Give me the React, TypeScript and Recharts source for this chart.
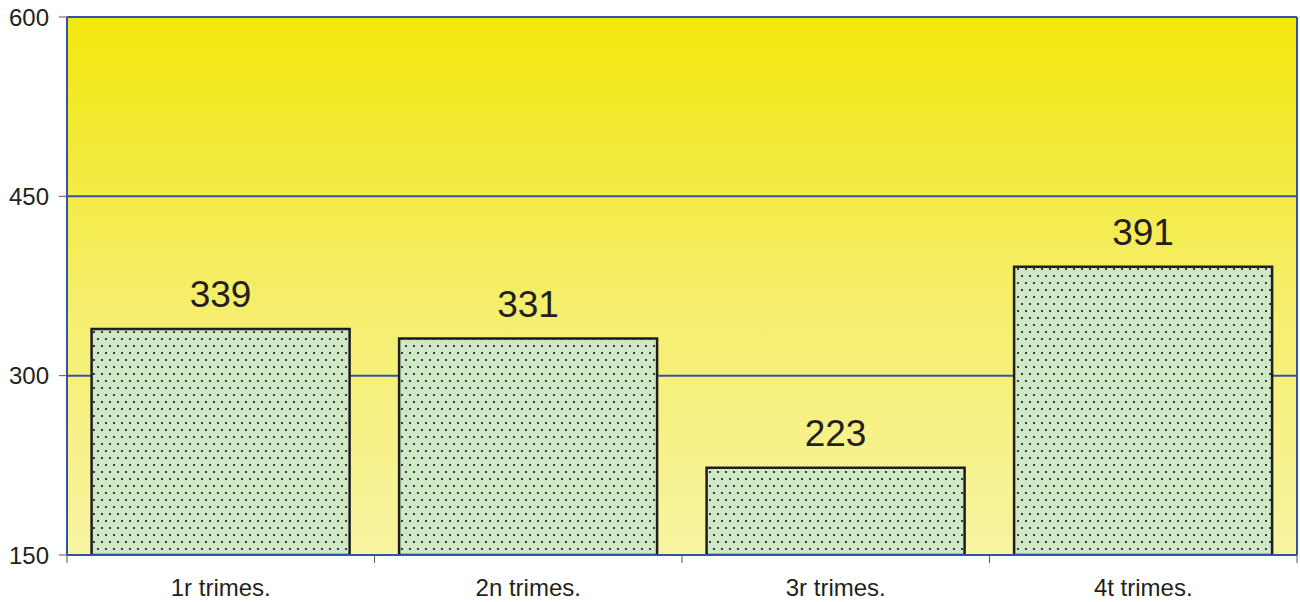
import React from "react";
import {
  BarChart,
  Bar,
  XAxis,
  YAxis,
  CartesianGrid,
  ReferenceLine,
  LabelList,
} from "recharts";

const categories = ["1r trimes.", "2n trimes.", "3r trimes.", "4t trimes."];
const values = [339, 331, 223, 391];
const yTicks = [150, 300, 450, 600];

const data = categories.map((name, i) => ({ name, value: values[i] }));

const BLUE = "#3353a4";
const TEXT = "#231f20";
const FONT = "'Liberation Sans', Arial, sans-serif";

// category label plus tick marks at the band edges
const CategoryTick = (props: any) => {
  const { x, y, payload, index, visibleTicksCount } = props;
  const half = payload?.offset ?? 0;
  const axisY = y - 24;
  const isLast = index === (visibleTicksCount ?? categories.length) - 1;
  return (
    <g>
      <line x1={x - half} x2={x - half} y1={axisY} y2={axisY + 8} stroke="#555" strokeWidth={1} />
      {isLast && (
        <line x1={x + half} x2={x + half} y1={axisY} y2={axisY + 8} stroke="#555" strokeWidth={1} />
      )}
      <text
        x={x}
        y={y}
        dy="0.71em"
        textAnchor="middle"
        fill={TEXT}
        fontSize={24}
        fontFamily={FONT}
      >
        {payload.value}
      </text>
    </g>
  );
};

const App: React.FC = () => {
  return (
    <div style={{ position: "absolute", left: 0, top: 0, width: 1300, height: 602, background: "#fff" }}>
      <BarChart
        width={1300}
        height={602}
        data={data}
        margin={{ top: 17, right: 0, left: 0, bottom: 0 }}
        barCategoryGap="8%"
        style={{ fontFamily: FONT }}
      >
        <defs>
          <linearGradient id="bgGrad" x1="0" y1="0" x2="0" y2="1">
            <stop offset="0%" stopColor="#f3e70c" />
            <stop offset="55%" stopColor="#f5ee6e" />
            <stop offset="100%" stopColor="#f8f4a2" />
          </linearGradient>
          <pattern id="dots" width="8" height="14" patternUnits="userSpaceOnUse">
            <rect width="8" height="14" fill="#cfe8c5" />
            <rect x="1" y="2" width="2" height="2" fill="#3a3a3a" />
            <rect x="5" y="9" width="2" height="2" fill="#3a3a3a" />
          </pattern>
        </defs>
        <CartesianGrid
          vertical={false}
          stroke={BLUE}
          strokeWidth={2}
          fill="url(#bgGrad)"
          fillOpacity={1}
        />
        <XAxis
          dataKey="name"
          height={47}
          axisLine={{ stroke: BLUE, strokeWidth: 2 }}
          tickLine={false}
          tickSize={0}
          tickMargin={24}
          interval={0}
          tick={<CategoryTick />}
        />
        <YAxis
          width={67}
          domain={[150, 600]}
          ticks={yTicks}
          allowDataOverflow
          axisLine={{ stroke: BLUE, strokeWidth: 2 }}
          tickSize={8}
          tickMargin={10}
          tickLine={{ stroke: "#555", strokeWidth: 1 }}
          tick={{ fill: TEXT, fontSize: 24, fontFamily: FONT }}
        />
        <YAxis
          yAxisId="r"
          orientation="right"
          width={3}
          domain={[150, 600]}
          axisLine={{ stroke: BLUE, strokeWidth: 2 }}
          tick={false}
          tickLine={false}
        />
        <ReferenceLine y={600} stroke={BLUE} strokeWidth={2} />
        <Bar
          dataKey="value"
          fill="url(#dots)"
          stroke="#1e1e1e"
          strokeWidth={2.5}
          isAnimationActive={false}
        >
          <LabelList
            dataKey="value"
            position="top"
            offset={22}
            fill={TEXT}
            fontSize={37}
            fontFamily={FONT}
          />
        </Bar>
      </BarChart>
    </div>
  );
};

export default App;
